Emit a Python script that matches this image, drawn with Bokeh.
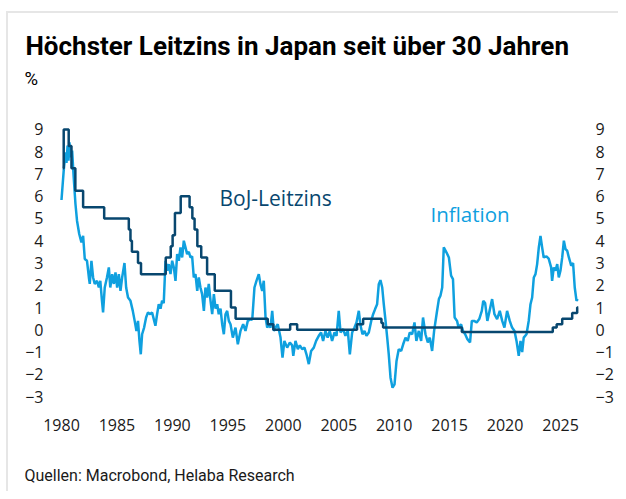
from bokeh.plotting import figure
from bokeh.models import Range1d, LinearAxis, FixedTicker, Label, Title
from bokeh.embed import file_html
from bokeh.resources import INLINE

# ---- data ----
policy_year = [1980.12, 1980.2, 1980.65, 1980.9, 1981.25, 1981.95, 1983.85, 1986.07, 1986.22, 1986.35,
               1986.9, 1987.17, 1989.4, 1989.85, 1990.02, 1990.23, 1990.75, 1991.55, 1991.8, 1992.0,
               1992.25, 1992.6, 1993.13, 1993.82, 1995.28, 1995.7, 1998.6, 1999.1, 2000.62, 2001.25,
               2006.65, 2007.2, 2008.85, 2009.0, 2016.1, 2024.3, 2024.65, 2025.15, 2026.05, 2026.5,
               2026.6]
policy_rate = [7.25, 9.0, 8.25, 7.25, 6.25, 5.5, 5.0, 4.5, 4.0, 3.5,
               3.0, 2.5, 3.25, 3.75, 4.25, 5.25, 6.0, 5.5, 5.0, 4.5,
               3.75, 3.25, 2.5, 1.75, 1.0, 0.5, 0.25, 0.0, 0.25, 0.0,
               0.25, 0.5, 0.3, 0.1, -0.1, 0.1, 0.25, 0.5, 0.75, 1.0,
               1.0]

infl_year = [1980.0, 1980.2, 1980.36, 1980.45, 1980.55, 1980.63, 1980.72, 1980.8, 1980.96, 1981.1,
             1981.26, 1981.4, 1981.6, 1981.8, 1981.95, 1982.1, 1982.3, 1982.47, 1982.55, 1982.7,
             1982.85, 1983.0, 1983.2, 1983.37, 1983.5, 1983.65, 1983.75, 1983.9, 1984.1, 1984.27,
             1984.4, 1984.57, 1984.72, 1984.87, 1985.02, 1985.17, 1985.32, 1985.47, 1985.68, 1985.83,
             1986.0, 1986.22, 1986.43, 1986.6, 1986.76, 1986.9, 1987.03, 1987.15, 1987.27, 1987.45,
             1987.63, 1987.8, 1988.0, 1988.17, 1988.36, 1988.47, 1988.62, 1988.77, 1988.93, 1989.07,
             1989.22, 1989.38, 1989.53, 1989.67, 1989.83, 1989.98, 1990.13, 1990.28, 1990.43, 1990.58,
             1990.73, 1990.88, 1991.03, 1991.18, 1991.33, 1991.48, 1991.63, 1991.78, 1991.93, 1992.08,
             1992.24, 1992.38, 1992.53, 1992.68, 1992.84, 1992.98, 1993.13, 1993.28, 1993.44, 1993.59,
             1993.74, 1993.89, 1994.04, 1994.18, 1994.34, 1994.49, 1994.64, 1994.79, 1994.94, 1995.09,
             1995.24, 1995.45, 1995.69, 1995.9, 1996.14, 1996.38, 1996.59, 1996.8, 1997.04, 1997.2,
             1997.4, 1997.58, 1997.79, 1997.94, 1998.1, 1998.24, 1998.4, 1998.55, 1998.7, 1998.85,
             1999.0, 1999.15, 1999.3, 1999.5, 1999.75, 1999.93, 2000.1, 2000.35, 2000.59, 2000.8,
             2000.9, 2001.1, 2001.31, 2001.49, 2001.7, 2001.91, 2002.09, 2002.3, 2002.51, 2002.75,
             2002.96, 2003.2, 2003.41, 2003.59, 2003.8, 2004.0, 2004.19, 2004.4, 2004.62, 2004.8,
             2005.0, 2005.16, 2005.4, 2005.6, 2005.82, 2006.0, 2006.21, 2006.42, 2006.6, 2006.81,
             2006.96, 2007.14, 2007.32, 2007.5, 2007.71, 2007.93, 2008.1, 2008.28, 2008.46, 2008.61,
             2008.76, 2008.92, 2009.06, 2009.22, 2009.37, 2009.51, 2009.67, 2009.85, 2010.03, 2010.21,
             2010.41, 2010.63, 2010.81, 2011.02, 2011.22, 2011.4, 2011.62, 2011.83, 2012.0, 2012.22,
             2012.43, 2012.6, 2012.82, 2013.03, 2013.21, 2013.42, 2013.6, 2013.85, 2014.03, 2014.17,
             2014.33, 2014.47, 2014.72, 2014.93, 2015.13, 2015.3, 2015.45, 2015.67, 2015.8, 2016.03,
             2016.2, 2016.4, 2016.6, 2016.84, 2017.0, 2017.2, 2017.44, 2017.67, 2017.9, 2018.03,
             2018.2, 2018.4, 2018.6, 2018.83, 2019.04, 2019.28, 2019.52, 2019.74, 2019.94, 2020.18,
             2020.42, 2020.63, 2020.85, 2021.03, 2021.23, 2021.39, 2021.54, 2021.68, 2021.93, 2022.13,
             2022.29, 2022.44, 2022.59, 2022.74, 2022.89, 2023.04, 2023.19, 2023.34, 2023.48, 2023.73,
             2023.93, 2024.15, 2024.24, 2024.39, 2024.54, 2024.7, 2024.84, 2024.99, 2025.15, 2025.3,
             2025.45, 2025.6, 2025.75, 2025.96, 2026.13, 2026.28, 2026.44, 2026.55]
infl_rate = [5.83, 7.15, 7.97, 7.5, 8.27, 7.6, 8.42, 7.75, 8.05, 6.85,
             5.65, 4.9, 4.3, 3.92, 4.22, 3.18, 3.1, 2.35, 2.06, 3.1,
             2.35, 2.06, 2.2, 1.9, 2.2, 1.3, 0.78, 1.9, 2.35, 2.8,
             1.9, 2.5, 2.06, 2.58, 1.9, 2.5, 1.75, 2.35, 3.0, 1.9,
             1.45, 1.3, 0.85, 0.4, -0.05, 0.4, -0.5, -1.1, -0.2, 0.1,
             0.55, 0.78, 0.7, 0.78, 0.4, 0.18, 0.7, 1.15, 0.95, 1.3,
             1.2, 3.1, 2.65, 2.95, 2.5, 3.1, 2.8, 2.2, 3.4, 3.1,
             3.7, 3.25, 4.0, 3.7, 3.4, 3.5, 3.25, 3.3, 2.35, 2.5,
             1.75, 2.35, 1.9, 1.6, 0.85, 1.9, 1.45, 2.06, 1.3, 0.7,
             1.6, 0.95, 1.15, 0.7, 0.95, 0.25, -0.2, 0.7, 0.85, 0.4,
             0.25, -0.35, 0.1, -0.65, -0.05, 0.25, -0.05, 0.4, 0.48, 0.45,
             1.9, 2.2, 2.5, 2.05, 1.75, 2.2, 0.55, 0.1, 0.25, 0.1,
             0.85, -0.05, 0.1, 0.25, -0.35, -1.25, -0.5, -0.8, -0.57, -0.7,
             -1.17, -0.5, -0.87, -0.7, -0.87, -0.8, -1.1, -1.54, -0.95, -0.8,
             -0.5, -0.27, -0.12, -0.5, -0.05, -0.35, -0.05, -0.5, -0.12, -0.27,
             0.85, -0.12, 0.03, -0.27, -0.05, -1.1, -0.12, 0.1, 0.33, 0.85,
             0.2, -0.2, -0.05, -0.27, -0.12, 0.4, 0.7, 0.93, 1.15, 2.05,
             2.23, 1.9, 1.15, 0.4, -0.35, -1.1, -2.15, -2.6, -2.45, -1.4,
             -0.87, -0.95, -0.65, -0.35, -0.5, -0.12, -0.2, 0.33, -0.5, -0.05,
             -0.5, 0.55, -0.2, -0.57, -0.35, -0.95, -0.05, 0.8, 1.38, 1.53,
             1.9, 3.7, 3.47, 3.25, 2.43, 2.28, 0.55, 0.4, 0.1, 0.25,
             -0.05, -0.2, -0.42, -0.57, 0.4, 0.4, 0.33, 0.48, 0.85, 1.3,
             1.2, 0.4, 0.85, 1.38, 0.7, 0.48, 0.85, 0.4, 0.1, 0.85,
             0.4, 0.1, -0.05, -0.5, -1.17, -0.5, -1.0, -0.35, -0.2, 0.4,
             1.15, 1.45, 2.35, 2.5, 2.95, 3.7, 4.22, 3.7, 3.25, 3.3,
             3.2, 2.8, 2.2, 2.8, 2.65, 2.95, 2.35, 2.65, 3.25, 4.0,
             3.62, 3.55, 3.25, 2.88, 3.0, 1.9, 1.3, 1.38]

x_ticks = [1980, 1985, 1990, 1995, 2000, 2005, 2010, 2015, 2020, 2025]
y_ticks = [-3, -2, -1, 0, 1, 2, 3, 4, 5, 6, 7, 8, 9]

title_text = "Höchster Leitzins in Japan seit über 30 Jahren"
unit_text = "%"
source_text = "Quellen: Macrobond, Helaba Research"
policy_label = "BoJ-Leitzins"
infl_label = "Inflation"

# ---- styles ----
DARK = "#08476f"
LIGHT = "#0fa0df"
TXT = "#1a1a1a"
TICK_FONT = "Open Sans"
HEAD_FONT = "Roboto"

p = figure(width=618, height=491, output_backend="svg", toolbar_location=None, title=None,
           x_range=Range1d(1979.46, 2027.25), y_range=Range1d(-3.4, 9.4),
           min_border_left=55, min_border_right=33, min_border_top=120, min_border_bottom=86)
p.outline_line_color = None
p.xgrid.grid_line_color = None
p.ygrid.grid_line_color = None
p.background_fill_color = None
p.border_fill_color = None
p.styles = {"box-shadow": "inset 6px 11px 0 0 #ffffff, inset 8px 13px 0 0 #e6e6e6"}

p.add_layout(LinearAxis(), "right")

for ax in p.xaxis + p.yaxis:
    ax.axis_line_color = None
    ax.major_tick_line_color = None
    ax.minor_tick_line_color = None
    ax.major_tick_out = 0
    ax.major_tick_in = 0
    ax.major_label_text_font = TICK_FONT
    ax.major_label_text_font_size = "16px"
    ax.major_label_text_color = TXT

p.xaxis.ticker = FixedTicker(ticks=x_ticks)
p.xaxis.major_label_standoff = 13
for ax in p.yaxis:
    ax.ticker = FixedTicker(ticks=y_ticks)
p.yaxis[0].major_label_standoff = 12
p.yaxis[1].major_label_standoff = 10

p.line(infl_year, infl_rate, line_color=LIGHT, line_width=2.5)
p.step(policy_year, policy_rate, mode="after", line_color=DARK, line_width=2.5)

# below: spacer, then source
p.add_layout(Title(text=" ", standoff=17, text_font=HEAD_FONT, text_font_size="10px"), "below")
p.add_layout(Title(text=source_text, align="left", offset=-31, standoff=0,
                   text_font=HEAD_FONT, text_font_style="normal", text_font_size="16px",
                   text_color=TXT), "below")
# above: spacer (nearest frame), unit, main title
p.add_layout(Title(text=" ", standoff=17, text_font=HEAD_FONT, text_font_size="10px"), "above")
p.add_layout(Title(text=unit_text, align="left", offset=-31, standoff=1,
                   text_font=HEAD_FONT, text_font_style="normal", text_font_size="18.5px",
                   text_color="#000000"), "above")
p.add_layout(Title(text=title_text, align="left", offset=-30, standoff=10,
                   text_font=HEAD_FONT, text_font_style="bold", text_font_size="26px",
                   text_color="#000000"), "above")

p.add_layout(Label(x=164, y=208, x_units="screen", y_units="screen", text=policy_label,
                   text_font=TICK_FONT, text_font_size="21px",
                   text_color=DARK, text_baseline="alphabetic"))
p.add_layout(Label(x=375, y=192, x_units="screen", y_units="screen", text=infl_label,
                   text_font=TICK_FONT, text_font_size="20.5px",
                   text_color=LIGHT, text_baseline="alphabetic"))

open("out.html", "w").write(file_html(p, INLINE))
